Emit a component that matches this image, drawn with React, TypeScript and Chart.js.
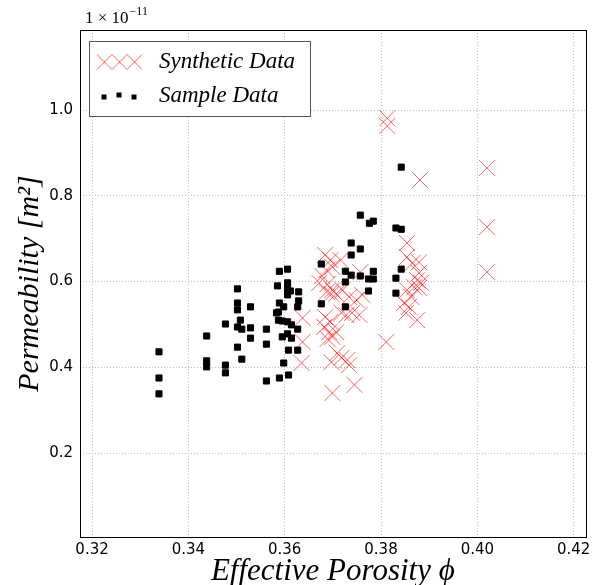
import React, { useEffect, useRef } from "react";
import { Chart, registerables } from "chart.js";
Chart.register(...registerables);

// Sample data (black squares), permeability in units of 1e-11 m^2
const sampleX = [
  0.3339, 0.3339, 0.3339, 0.3438, 0.3438, 0.3438, 0.3477, 0.3477, 0.3477, 0.3502,
  0.3502, 0.3502, 0.3508, 0.3502, 0.3511, 0.3502, 0.3511, 0.3529, 0.3529, 0.3529,
  0.3562, 0.3562, 0.3562, 0.3589, 0.3606, 0.3585, 0.3606, 0.3606, 0.3612, 0.3629,
  0.3629, 0.3606, 0.3589, 0.3598, 0.3627, 0.3587, 0.3583, 0.3587, 0.3595, 0.3606,
  0.3614, 0.3627, 0.3595, 0.3614, 0.3606, 0.3608, 0.3627, 0.3598, 0.3589, 0.3608,
  0.3676, 0.3676, 0.3757, 0.3776, 0.3784, 0.3738, 0.3757, 0.3738, 0.3726, 0.3738,
  0.3784, 0.3757, 0.3774, 0.3784, 0.3726, 0.3774, 0.3726, 0.3842, 0.3831, 0.3842,
  0.3842, 0.3831, 0.3831,
];
const sampleY = [
  0.436, 0.375, 0.338, 0.473, 0.415, 0.401, 0.501, 0.405, 0.387, 0.583,
  0.55, 0.534, 0.51, 0.494, 0.489, 0.447, 0.419, 0.541, 0.492, 0.468,
  0.489, 0.454, 0.368, 0.624, 0.629, 0.59, 0.597, 0.583, 0.578, 0.576,
  0.555, 0.569, 0.55, 0.541, 0.541, 0.529, 0.527, 0.51, 0.508, 0.506,
  0.499, 0.489, 0.471, 0.468, 0.478, 0.44, 0.44, 0.41, 0.375, 0.382,
  0.641, 0.548, 0.755, 0.736, 0.741, 0.69, 0.676, 0.662, 0.624, 0.615,
  0.624, 0.613, 0.606, 0.606, 0.599, 0.578, 0.541, 0.867, 0.725, 0.722,
  0.629, 0.608, 0.573,
];

// Synthetic data (red crosses)
const synthX = [
  0.3637, 0.3637, 0.3635, 0.3684, 0.3695, 0.3716, 0.3699, 0.3687, 0.3678, 0.3672,
  0.3689, 0.3699, 0.3687, 0.3697, 0.3707, 0.372, 0.3684, 0.3695, 0.3682, 0.3693,
  0.3707, 0.3699, 0.3689, 0.3734, 0.3749, 0.3761, 0.3757, 0.3718, 0.3728, 0.374,
  0.3755, 0.3709, 0.3697, 0.373, 0.3718, 0.3734, 0.3745, 0.3699, 0.3811, 0.3813,
  0.3813, 0.3881, 0.402, 0.402, 0.402, 0.3854, 0.3854, 0.3879, 0.3865, 0.3879,
  0.3875, 0.3883, 0.3869, 0.3879, 0.3854, 0.3863, 0.3848, 0.3858, 0.3852, 0.3875,
];
const synthY = [
  0.515, 0.459, 0.41, 0.662, 0.65, 0.65, 0.634, 0.627, 0.613, 0.597,
  0.594, 0.58, 0.576, 0.571, 0.571, 0.58, 0.517, 0.506, 0.494, 0.482,
  0.482, 0.471, 0.466, 0.564, 0.557, 0.569, 0.622, 0.527, 0.522, 0.527,
  0.522, 0.433, 0.412, 0.417, 0.422, 0.405, 0.359, 0.34, 0.459, 0.981,
  0.963, 0.837, 0.865, 0.727, 0.622, 0.69, 0.657, 0.645, 0.643, 0.62,
  0.603, 0.597, 0.587, 0.585, 0.58, 0.564, 0.55, 0.541, 0.527, 0.51,
];

const xTicks = [0.32, 0.34, 0.36, 0.38, 0.4, 0.42];
const yTicks = [0.2, 0.4, 0.6, 0.8, 1.0];
const xLabel = "Effective Porosity ϕ";
const yLabel = "Permeability [m²]";
const legendLabels = ["Synthetic Data", "Sample Data"];

const RED = "rgba(255,0,0,0.62)";
const SERIF = '"Liberation Serif", "DejaVu Serif", serif';

function drawX(ctx: CanvasRenderingContext2D, x: number, y: number, h: number) {
  ctx.beginPath();
  ctx.moveTo(x - h, y - h);
  ctx.lineTo(x + h, y + h);
  ctx.moveTo(x - h, y + h);
  ctx.lineTo(x + h, y - h);
  ctx.stroke();
}

const decorPlugin = {
  id: "decor",
  afterDraw(chart: any) {
    const { ctx, chartArea } = chart;
    const { left, right, top, bottom } = chartArea;
    ctx.save();
    // frame
    ctx.strokeStyle = "#000";
    ctx.lineWidth = 1;
    ctx.strokeRect(Math.round(left) + 0.5, Math.round(top) + 0.5, Math.round(right - left), Math.round(bottom - top));

    // legend
    ctx.fillStyle = "#fff";
    ctx.fillRect(89.5, 41.5, 221, 75);
    ctx.strokeStyle = "#555";
    ctx.strokeRect(89.5, 41.5, 221, 75);
    ctx.strokeStyle = RED;
    ctx.lineWidth = 1;
    [104.5, 119.5, 134.5].forEach((cx) => drawX(ctx, cx, 62, 7.5));
    ctx.fillStyle = "#000";
    [[104, 97], [119, 95], [134, 97]].forEach(([cx, cy]) => ctx.fillRect(cx - 2.5, cy - 2.5, 5, 5));
    ctx.font = `italic 23px ${SERIF}`;
    ctx.textAlign = "left";
    ctx.textBaseline = "middle";
    ctx.fillText(legendLabels[0], 159, 62);
    ctx.fillText(legendLabels[1], 159, 96);

    // axis titles
    ctx.font = `italic 31px ${SERIF}`;
    ctx.textAlign = "center";
    ctx.fillText(xLabel, (left + right) / 2, 572);
    ctx.save();
    ctx.translate(30, (top + bottom) / 2);
    ctx.rotate(-Math.PI / 2);
    ctx.font = `italic 30px ${SERIF}`;
    ctx.fillText(yLabel, 0, 0);
    ctx.restore();

    // offset / exponent label
    ctx.textAlign = "left";
    ctx.textBaseline = "alphabetic";
    ctx.font = `17px ${SERIF}`;
    const base = "1 × 10";
    ctx.fillText(base, 85, 23);
    const w = ctx.measureText(base).width;
    ctx.font = `12px ${SERIF}`;
    ctx.fillText("−11", 85 + w + 1, 15);
    ctx.restore();
  },
};

export default function App() {
  const ref = useRef<HTMLCanvasElement | null>(null);
  useEffect(() => {
    if (!ref.current) return;
    const chart = new Chart(ref.current, {
      type: "scatter",
      data: {
        datasets: [
          {
            label: legendLabels[1],
            data: sampleX.map((x, i) => ({ x, y: sampleY[i] })),
            pointStyle: "rect",
            pointRadius: 4.3,
            pointBackgroundColor: "#000",
            pointBorderColor: "#000",
            pointBorderWidth: 1,
            order: 0,
          },
          {
            label: legendLabels[0],
            data: synthX.map((x, i) => ({ x, y: synthY[i] })),
            pointStyle: "crossRot",
            pointRadius: 11.3,
            pointBorderColor: RED,
            pointBackgroundColor: RED,
            pointBorderWidth: 1,
            order: 1,
          },
        ],
      },
      options: {
        animation: false,
        responsive: false,
        devicePixelRatio: 1,
        layout: { padding: { top: 30, right: 11, left: 0, bottom: 0 } },
        plugins: { legend: { display: false }, tooltip: { enabled: false } },
        scales: {
          x: {
            type: "linear",
            min: 0.3175,
            max: 0.4225,
            afterBuildTicks: (s: any) => {
              s.ticks = xTicks.map((v) => ({ value: v }));
            },
            afterFit: (s: any) => {
              s.height = 48;
            },
            ticks: {
              color: "#000",
              padding: 4,
              maxRotation: 0,
              font: { family: '"DejaVu Sans", sans-serif', size: 15 },
              callback: (v: any) => Number(v).toFixed(2),
            },
            grid: { color: "#bdbdbd", lineWidth: 1, drawTicks: false },
            border: { display: false, dash: [1, 2] },
          },
          y: {
            type: "linear",
            min: 0.004,
            max: 1.187,
            afterBuildTicks: (s: any) => {
              s.ticks = yTicks.map((v) => ({ value: v }));
            },
            afterFit: (s: any) => {
              s.width = 80;
            },
            ticks: {
              color: "#000",
              padding: 7,
              font: { family: '"DejaVu Sans", sans-serif', size: 15 },
              callback: (v: any) => Number(v).toFixed(1),
            },
            grid: { color: "#bdbdbd", lineWidth: 1, drawTicks: false },
            border: { display: false, dash: [1, 2] },
          },
        },
      },
      plugins: [decorPlugin],
    } as any);
    return () => chart.destroy();
  }, []);
  return (
    <div style={{ position: "absolute", left: 0, top: 0, width: 598, height: 585, background: "#fff" }}>
      <canvas ref={ref} width={598} height={585} style={{ display: "block" }} />
    </div>
  );
}
